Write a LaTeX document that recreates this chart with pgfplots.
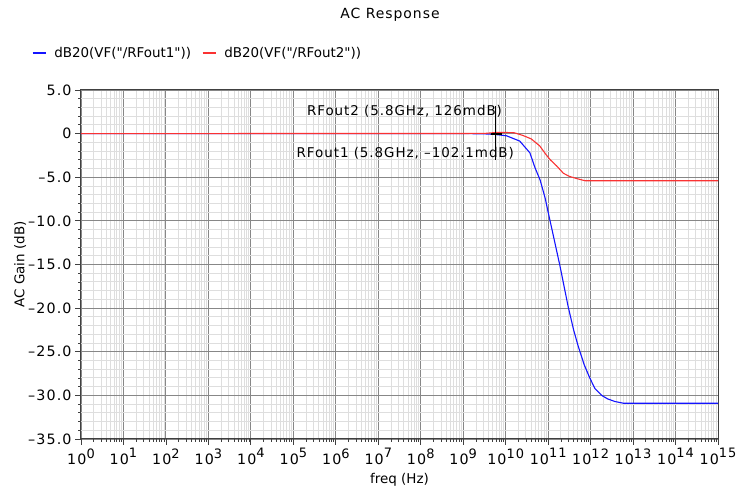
\documentclass[border=0pt]{standalone}
\usepackage{fontspec}
\setmainfont{DejaVu Sans}[Ligatures=TeXOff]
\newfontfamily\wfont[LetterSpace=7,Ligatures=TeXOff]{DejaVu Sans}
\newfontfamily\tfont[LetterSpace=8,Ligatures=TeXOff]{DejaVu Sans}
\usepackage{pgfplots}
\usepackage{pgfplotstable}
\pgfplotsset{compat=1.18}
\definecolor{majg}{RGB}{135,135,135}
\definecolor{ming}{RGB}{222,222,222}
\definecolor{cblue}{RGB}{20,20,255}
\definecolor{cred}{RGB}{250,50,50}
\pgfplotstableread{
lf db
0 0
9.0 0
9.47 -0.02
9.76 -0.10
10.02 -0.25
10.33 -0.85
10.57 -2.2
10.69 -3.9
10.81 -5.3
10.93 -7.4
11.0 -9.0
11.1 -11.2
11.28 -15.2
11.47 -19.8
11.6 -22.5
11.71 -24.4
11.85 -26.5
11.98 -28.0
12.1 -29.2
12.26 -30.0
12.4 -30.4
12.57 -30.7
12.77 -30.9
15 -30.9
}\bluedata
\pgfplotstableread{
lf db
0 0
9.5 0.02
9.76 0.126
10.0 0.13
10.2 0.1
10.4 -0.2
10.6 -0.6
10.8 -1.4
10.95 -2.4
11.05 -3.0
11.2 -3.7
11.36 -4.55
11.5 -4.9
11.67 -5.15
11.87 -5.4
15 -5.4
}\reddata
\def\mxt{}
\foreach \e in {0,...,14}{\foreach \m in {2,...,9}{\xdef\mxt{\mxt\m e\e,}}}
\xdef\mxt{\mxt 1e15}
\begin{document}
\begin{tikzpicture}[x=1bp,y=1bp,font=\fontsize{13.5}{16}\selectfont]
\useasboundingbox (-81,-50) rectangle (656,439);
\begin{axis}[at={(0,0)}, anchor=south west, scale only axis,
  width=637bp, height=349bp,
  xmode=log, log basis x=10, xmin=1, xmax=1e15, ymin=-35, ymax=5,
  xtick={1,1e1,1e2,1e3,1e4,1e5,1e6,1e7,1e8,1e9,1e10,1e11,1e12,1e13,1e14,1e15},
  minor xtick/.expanded={\mxt},
  ytick={-35,-30,...,5},
  yticklabels={\tfont –35.0,\tfont –30.0,\tfont –25.0,\tfont –20.0,\tfont –15.0,\tfont –10.0,\tfont –5.0,\tfont 0,\tfont 5.0},
  xticklabel={\tfont 10\raisebox{0.48em}{\fontsize{13}{13}\selectfont\pgfmathparse{int(round(\tick))}\pgfmathresult}},
  tick label style={font=\fontsize{14.3}{16}\selectfont},
  minor y tick num=4,
  grid=both,
  major grid style={majg, line width=0.9bp},
  minor grid style={ming, line width=0.9bp},
  axis line style={black!75, line width=1bp},
  tick pos=left, tick align=outside,
  major tick length=6bp, minor tick length=3bp,
  every tick/.style={black!75, line width=0.8bp},
  xlabel={freq (Hz)}, ylabel={AC Gain (dB)},
  xlabel style={yshift=-1bp},
  ylabel style={yshift=-5bp},
  legend columns=2,
  legend style={draw=none, fill=none, at={(axis description cs:0,1)}, anchor=south west,
    xshift=-52bp, yshift=27bp, font=\fontsize{13.5}{16}\selectfont,
    /tikz/every even column/.append style={column sep=9bp}},
  legend image code/.code={\draw[#1] (0,0) -- (13bp,0); \path (19bp,0);},
]
\addplot[cblue, line width=1.1bp] table[x expr={10^\thisrow{lf}}, y=db] {\bluedata};
\addlegendentry{dB20(VF("/RFout1"))}
\addplot[cred, line width=1.1bp] table[x expr={10^\thisrow{lf}}, y=db] {\reddata};
\addlegendentry{dB20(VF("/RFout2"))}
\draw[black, line width=1bp] (axis cs:5.8e9,3.2) -- (axis cs:5.8e9,-3.0);
\draw[black, line width=2.2bp] (axis cs:4.6e9,0) -- (axis cs:8e9,0);
\end{axis}
\node[font=\fontsize{14}{16}\selectfont\wfont] at (309,424) {AC Response};
\node[font=\fontsize{13.5}{16}\selectfont\wfont] at (323.5,327.3) {RFout2 (5.8GHz, 126mdB)};
\node[font=\fontsize{13.5}{16}\selectfont\wfont] at (324.3,285.7) {RFout1 (5.8GHz, –102.1mdB)};
\end{tikzpicture}
\end{document}
